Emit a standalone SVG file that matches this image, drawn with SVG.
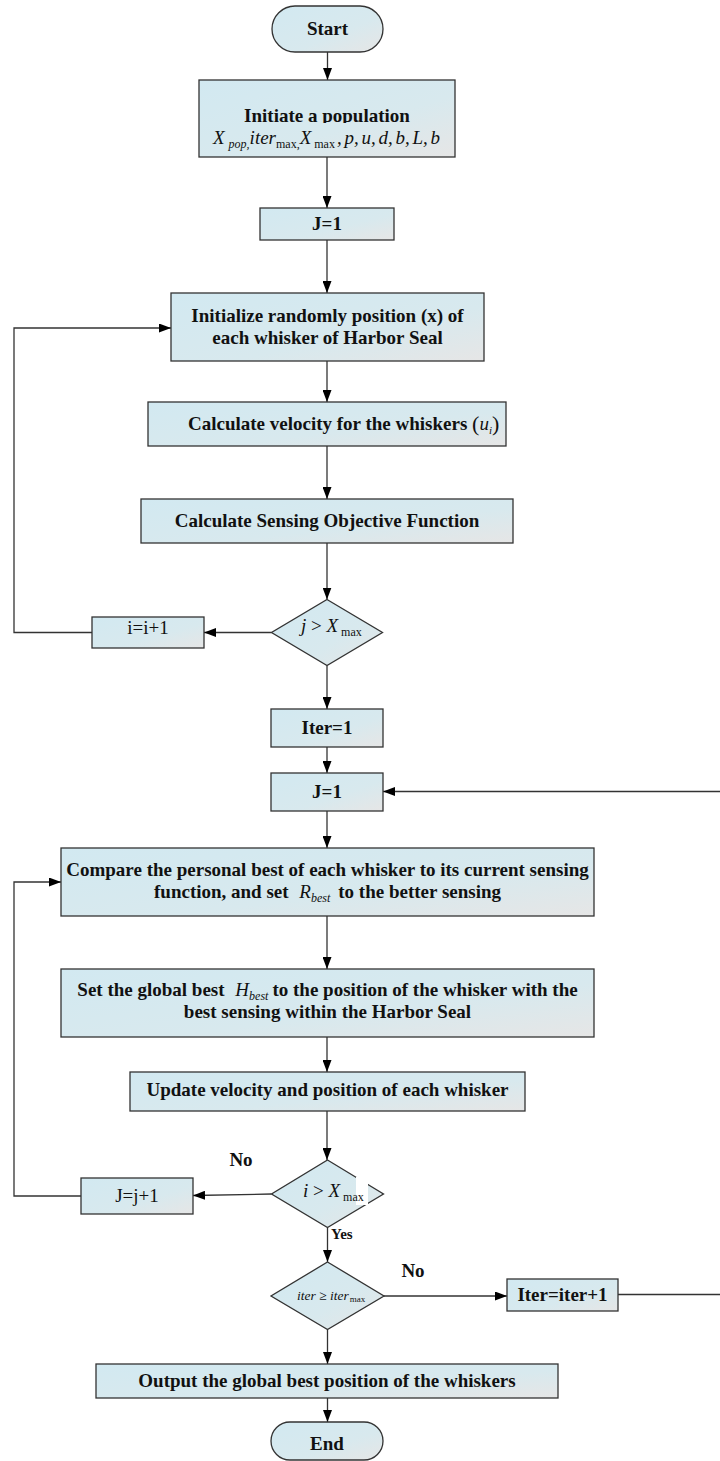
<svg xmlns="http://www.w3.org/2000/svg" width="720" height="1461" viewBox="0 0 720 1461">
<defs>
<linearGradient id="fillG" x1="0" y1="0" x2="1" y2="1">
<stop offset="0" stop-color="#d2e9f1"/>
<stop offset="0.6" stop-color="#d8e9ee"/>
<stop offset="1" stop-color="#e6e6e6"/>
</linearGradient>
<marker id="arr" markerUnits="userSpaceOnUse" markerWidth="12" markerHeight="9" refX="12" refY="4.5" orient="auto">
<path d="M0,0 L12,4.5 L0,9 Z" fill="#000"/>
</marker>
<clipPath id="clipInit"><rect x="199" y="80" width="256" height="43"/></clipPath>
</defs>
<style>
.box{fill:url(#fillG);stroke:#333;stroke-width:1.3}
.t{font-family:"Liberation Serif","Times New Roman",serif;font-size:19px;font-weight:bold;fill:#111;text-anchor:middle}
.r{font-family:"Liberation Serif","Times New Roman",serif;font-size:19px;fill:#111;text-anchor:middle}
.m{font-family:"Liberation Serif","Times New Roman",serif;font-style:italic;font-weight:normal;fill:#111}
.mr{font-family:"Liberation Serif","Times New Roman",serif;font-style:normal;font-weight:normal;fill:#111}
.c{fill:none;stroke:#333;stroke-width:1.3}
.ca{fill:none;stroke:#333;stroke-width:1.3;marker-end:url(#arr)}
.lbl{font-family:"Liberation Serif","Times New Roman",serif;font-weight:bold;fill:#111}
</style>
<rect width="720" height="1461" fill="#fff"/>

<g id="connectors">
<path class="ca" d="M327.5,52 V80"/>
<path class="ca" d="M327,157 V208"/>
<path class="ca" d="M327,240 V293"/>
<path class="ca" d="M327,361 V402"/>
<path class="ca" d="M327,446 V499"/>
<path class="ca" d="M327,543 V599.5"/>
<path class="ca" d="M271.5,632.5 H204"/>
<path class="ca" d="M92,632.5 H14 V328 H171"/>
<path class="ca" d="M327,665.5 V709"/>
<path class="ca" d="M327,747 V773"/>
<path class="ca" d="M327,811 V848"/>
<path class="ca" d="M327,916 V969"/>
<path class="ca" d="M327,1037 V1072"/>
<path class="ca" d="M327,1111 V1160"/>
<path class="ca" d="M271.5,1194 L193,1195.5"/>
<path class="ca" d="M81,1196 H14 V882 H61"/>
<path class="ca" d="M327.5,1227.5 V1262"/>
<path class="ca" d="M384,1296 H507"/>
<path class="ca" d="M618,1294.5 H723 V791.5 H383"/>
<path class="ca" d="M327.5,1329.5 V1364"/>
<path class="ca" d="M327.5,1398 V1422"/>
</g>

<g id="start">
<rect class="box" x="272" y="6" width="111" height="46" rx="23"/>
<text class="t" x="327.5" y="35">Start</text>
</g>

<g id="init">
<rect class="box" x="199" y="80" width="256" height="77"/>
<text class="t" x="327" y="122" clip-path="url(#clipInit)">Initiate a population</text>
<text class="m" x="213" y="144" font-size="19">X<tspan font-size="12" dx="4" dy="4">pop,</tspan><tspan dy="-4">iter</tspan><tspan class="mr" font-size="12" dy="4">max,</tspan><tspan dy="-4">X</tspan><tspan class="mr" font-size="12" dx="3" dy="4">max</tspan><tspan dy="-4" dx="2" word-spacing="-2">, p, u, d, b, L, b</tspan></text>
</g>

<g id="j1a">
<rect class="box" x="260" y="208" width="134" height="32"/>
<text class="t" x="327" y="230">J=1</text>
</g>

<g id="initpos">
<rect class="box" x="171" y="293" width="313" height="68"/>
<text class="t" x="327.5" y="322">Initialize randomly position (x) of</text>
<text class="t" x="327.5" y="344">each whisker of Harbor Seal</text>
</g>

<g id="vel">
<rect class="box" x="148" y="402" width="358" height="44"/>
<text class="t" x="188" y="430" style="text-anchor:start">Calculate velocity for the whiskers <tspan class="mr" font-size="22" dy="1">(</tspan><tspan class="m" font-size="19" dy="-1">u</tspan><tspan class="m" font-size="11" dy="4">i</tspan><tspan class="mr" font-size="22" dy="-3">)</tspan></text>
</g>

<g id="sense">
<rect class="box" x="141" y="499" width="372" height="44"/>
<text class="t" x="327" y="527">Calculate Sensing Objective Function</text>
</g>

<g id="dec1">
<polygon class="box" points="327,599.5 382.5,632.5 327,665.5 271.5,632.5"/>
<text class="m" x="301" y="632" font-size="19">j <tspan class="mr">&gt;</tspan> X<tspan class="mr" font-size="12" dx="3" dy="4">max</tspan></text>
</g>

<g id="inc_i">
<rect class="box" x="92" y="617" width="112" height="31"/>
<text class="r" x="148" y="634">i=i+1</text>
</g>

<g id="iter1">
<rect class="box" x="271" y="709" width="112" height="38"/>
<text class="t" x="327" y="734">Iter=1</text>
</g>

<g id="j1b">
<rect class="box" x="271" y="773" width="112" height="38"/>
<text class="t" x="327" y="798">J=1</text>
</g>

<g id="compare">
<rect class="box" x="61" y="848" width="533" height="68"/>
<text class="t" x="327.5" y="876">Compare the personal best of each whisker to its current sensing</text>
<text class="t" x="327.5" y="898">function, and set <tspan class="m" dx="6">R</tspan><tspan class="m" font-size="12" dy="4">best</tspan><tspan dx="8" dy="-4">to the better sensing</tspan></text>
</g>

<g id="global">
<rect class="box" x="61" y="969" width="533" height="68"/>
<text class="t" x="327.5" y="996">Set the global best <tspan class="m" dx="6">H</tspan><tspan class="m" font-size="12" dy="4">best</tspan><tspan dx="4" dy="-4">to the position of the whisker with the</tspan></text>
<text class="t" x="327.5" y="1018">best sensing within the Harbor Seal</text>
</g>

<g id="update">
<rect class="box" x="130" y="1072" width="395" height="39"/>
<text class="t" x="327.5" y="1096">Update velocity and position of each whisker</text>
</g>

<g id="dec2">
<polygon class="box" points="327.5,1160 383.5,1194 327.5,1227.5 271.5,1194"/>
<rect x="356" y="1177" width="12" height="28" fill="#fff"/>
<text class="m" x="303" y="1197" font-size="19">i <tspan class="mr">&gt;</tspan> X<tspan class="mr" font-size="12" dx="3" dy="4">max</tspan></text>
</g>

<g id="inc_j">
<rect class="box" x="81" y="1178" width="112" height="36"/>
<text class="r" x="137" y="1202">J=j+1</text>
</g>

<g id="dec3">
<polygon class="box" points="327.5,1262 384,1296 327.5,1329.5 271,1296"/>
<text class="m" x="297" y="1300" font-size="13.5">iter <tspan class="mr">≥</tspan> iter<tspan class="mr" font-size="9" dx="1" dy="2">max</tspan></text>
</g>

<g id="inc_iter">
<rect class="box" x="507" y="1279" width="111" height="32"/>
<text class="t" x="562.5" y="1301">Iter=iter+1</text>
</g>

<g id="output">
<rect class="box" x="96" y="1364" width="462" height="34"/>
<text class="t" x="327" y="1387">Output the global best position of the whiskers</text>
</g>

<g id="end">
<rect class="box" x="271" y="1422" width="112" height="38" rx="19"/>
<text class="t" x="327" y="1450">End</text>
</g>

<g id="labels">
<text class="lbl" x="241" y="1166" font-size="19" text-anchor="middle">No</text>
<text class="lbl" x="331" y="1239" font-size="15">Yes</text>
<text class="lbl" x="413" y="1277" font-size="19" text-anchor="middle">No</text>
</g>
</svg>
